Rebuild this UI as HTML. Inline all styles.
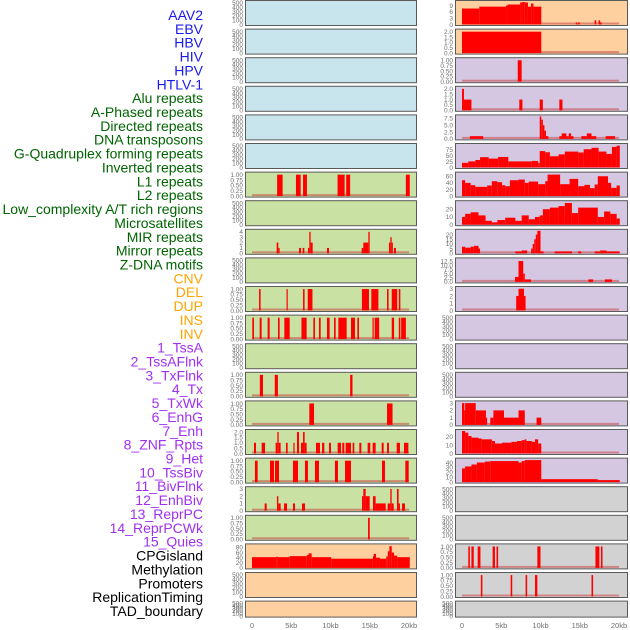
<!DOCTYPE html>
<html><head><meta charset="utf-8"><style>
html,body{margin:0;padding:0;background:#fff;}
svg{display:block;font-family:"Liberation Sans",sans-serif;}
</style></head><body>
<svg id="chart" width="630" height="630" viewBox="0 0 630 630"></svg>
<script>
const featureLabels = ["AAV2","EBV","HBV","HIV","HPV","HTLV-1","Alu repeats","A-Phased repeats","Directed repeats","DNA transposons","G-Quadruplex forming repeats","Inverted repeats","L1 repeats","L2 repeats","Low_complexity A/T rich regions","Microsatellites","MIR repeats","Mirror repeats","Z-DNA motifs","CNV","DEL","DUP","INS","INV","1_TssA","2_TssAFlnk","3_TxFlnk","4_Tx","5_TxWk","6_EnhG","7_Enh","8_ZNF_Rpts","9_Het","10_TssBiv","11_BivFlnk","12_EnhBiv","13_ReprPC","14_ReprPCWk","15_Quies","CPGisland","Methylation","Promoters","ReplicationTiming","TAD_boundary"];
const labelColors = ["#1a1aee","#1a1aee","#1a1aee","#1a1aee","#1a1aee","#1a1aee","#006400","#006400","#006400","#006400","#006400","#006400","#006400","#006400","#006400","#006400","#006400","#006400","#006400","#ffa500","#ffa500","#ffa500","#ffa500","#ffa500","#a030f0","#a030f0","#a030f0","#a030f0","#a030f0","#a030f0","#a030f0","#a030f0","#a030f0","#a030f0","#a030f0","#a030f0","#a030f0","#a030f0","#a030f0","#000","#000","#000","#000","#000"];
const xTickValues = [0,5,10,15,20];
const xTickLabels = ["0","5kb","10kb","15kb","20kb"];
const B="#c8e4ec",G="#c9e1a3",P="#ffd09f",L="#d5c6e2",Y="#d2d2d2";
const leftBg = [B,B,B,B,B,B,G,G,G,G,G,G,G,G,G,G,G,G,G,P,P,P];
const rightBg = [P,P,L,L,L,L,L,L,L,L,L,L,L,L,L,L,L,Y,Y,Y,Y,Y];
const T500=["0","100","200","300","400","500"], T1=["0.00","0.25","0.50","0.75","1.00"], T2=["0.0","0.5","1.0","1.5","2.0"];
const leftTicks = [T500,T500,T500,T500,T500,T500,T1,T500,["0","1","2","3","4"],T500,T1,T1,T500,T1,T1,T2,T1,["0","1","2","3"],T1,["0","20","40","60","80"],T500,T500];
const leftMax = [520,520,520,520,520,520,1.05,520,4.2,520,1.05,1.05,520,1.05,1.05,2.1,1.05,3.1,1.05,88,520,520];
const rightTicks = [["0","3","6","9"],T2,T1,T2,["0.0","2.5","5.0","7.5"],["0","25","50","75"],["0","20","40","60"],["0","10","20"],["0","5","10","15","20"],["0.0","2.5","5.0","7.5","10.0","12.5"],["0","1","2","3"],T500,T500,T500,["0","1","2","3"],["0","10","20"],["0","10","20","30","40"],T500,T500,T1,T1,T500];
const rightMax = [10.7,2.1,1.05,2.1,8.2,96,68,29,24,13.5,3.1,520,520,520,3.1,27,46,520,520,1.05,1.05,520];
// segments: [startKb, endKb, value]
const left6=[[3.2,3.9,1],[5.6,6.2,1],[6.5,7.0,1],[10.9,11.8,1],[12.0,12.5,1],[19.6,20.1,1]];
const left8=[[3.14,3.35,2],[3.35,3.52,1],[5.99,6.24,1],[6.45,6.67,1],[7.13,7.3,1],[7.3,7.47,4],[7.47,7.73,2],[9.55,9.81,1],[13.97,14.18,1],[14.18,14.82,2],[14.82,14.99,4],[17.45,17.62,2],[17.62,17.79,3],[17.79,17.87,2],[18.09,18.34,1]];
const left10=[[0.9,1.1,1],[4.4,4.5,1],[6.5,6.7,1],[7.1,7.7,1],[14.0,14.9,1],[15.2,16.1,1],[17.2,17.4,1],[17.8,18.5,1],[18.7,18.9,1]];
const left11=[[0.04,0.25,1],[0.98,1.23,1],[1.99,2.25,1],[3.31,3.52,1],[4.12,4.8,1],[6.3,6.96,1],[7.81,8.02,1],[8.53,8.75,1],[9.55,9.89,1],[10.45,10.66,1],[11.0,12.06,1],[12.61,13.12,1],[13.42,13.63,1],[15.35,15.5,1],[15.63,16.2,1],[17.8,18.1,1],[18.7,18.9,1],[19.0,19.6,1]];
const left13=[[1.0,1.4,1],[2.9,3.3,1],[12.5,12.8,1]];
const left14=[[7.3,7.9,1],[17.2,17.9,1]];
const left15=[[0.25,0.51,1],[1.23,1.66,1],[3.01,3.23,1],[3.23,3.4,2],[3.4,3.65,1],[4.33,4.54,1],[5.27,5.39,1],[5.73,5.99,2],[6.24,6.5,1],[6.5,6.71,2],[6.71,6.96,1],[8.15,8.66,1],[8.92,9.21,1],[9.81,10.06,1],[10.91,11.34,1],[11.5,11.76,1],[11.93,12.61,1],[12.82,13.03,1],[13.67,13.93,1],[14.73,15.07,1],[15.37,15.75,1],[16.52,16.77,1],[17.2,17.45,1],[18.43,18.85,1],[19.36,19.92,1]];
const left16=[[0.38,0.72,1],[2.29,2.8,1],[2.93,3.44,1],[5.22,5.86,1],[6.75,7.13,1],[8.02,8.53,1],[10.57,10.95,1],[11.85,12.61,1],[16.56,16.94,1],[19.53,19.96,1]];
const left17=[[1.61,1.87,1],[3.18,3.35,2],[3.35,3.65,1],[4.08,4.46,1],[5.22,5.48,1],[6.37,6.75,1],[14.01,14.18,2],[14.18,14.48,3],[14.48,14.99,2],[15.41,15.75,2],[15.75,17.03,1],[17.28,17.62,1],[17.62,17.79,3],[17.79,18.05,1],[18.47,18.68,3],[18.68,18.85,1],[19.11,19.49,1]];
const left18=[[14.78,15.0,1]];
const left19=[[0,3.1,42],[3.1,3.3,44],[3.3,4.8,42],[4.8,6.97,46],[6.97,7.2,50],[7.2,7.6,57],[7.6,10.1,42],[10.1,15.4,36],[15.4,15.5,45],[15.5,15.8,55],[15.8,16.3,40],[16.3,17.1,36],[17.1,17.3,45],[17.3,17.5,65],[17.5,17.8,85],[17.8,18.1,60],[18.1,18.5,48],[18.5,20.1,42]];
const right0=[[0,2.2,7.6],[2.2,5.6,8.5],[5.6,5.8,9],[5.8,7.4,9.5],[7.4,7.7,10.5],[7.7,8.0,11.5],[8.0,8.4,10.5],[8.4,8.8,8.5],[8.8,9.1,10],[9.1,10.1,8.5],[14.5,14.7,1],[14.8,15.0,1],[16.9,17.1,2],[17.4,17.6,2],[17.6,17.8,1]];
const right1=[[0,10.1,2]];
const right2=[[7.1,7.6,1]];
const right3=[[0,0.25,2],[0.25,1.2,1],[7.3,7.7,1],[9.9,10.3,1],[12.4,12.8,1]];
const right4=[[1.0,2.7,1],[9.9,10.1,9],[10.1,10.3,7],[10.3,10.5,5],[10.5,10.7,3],[10.7,11,1],[12.4,12.7,1],[12.7,13.3,2],[13.3,13.6,1],[13.6,13.9,2],[13.9,14.2,1],[15.2,15.9,1],[15.9,16.5,2],[16.5,17.1,1],[18.3,19.5,1]];
const right5=[[0,0.8,20],[0.8,1.7,26],[1.7,2.3,32],[2.3,3.4,44],[3.4,4.6,38],[4.6,5.9,45],[5.9,8.9,26],[8.9,9.7,28],[9.7,9.9,20],[9.9,10.6,70],[10.6,11.2,65],[11.2,12.3,48],[12.3,13.1,56],[13.1,14.8,68],[14.8,15.5,64],[15.5,16.5,78],[16.5,17.4,84],[17.4,18.4,68],[18.4,19.1,58],[19.1,19.7,88],[19.7,20.1,93]];
const right6=[[0,0.4,48],[0.4,1.1,40],[1.1,1.7,33],[1.7,3.2,28],[3.2,3.8,32],[3.8,4.5,45],[4.5,5.1,42],[5.1,5.5,33],[5.5,6.1,30],[6.1,7.2,48],[7.2,8.0,50],[8.0,8.5,40],[8.5,9.7,44],[9.7,10.6,36],[10.6,10.9,45],[10.9,12.5,65],[12.5,13.7,36],[13.7,14.8,52],[14.8,15.6,30],[15.6,16.3,34],[16.3,16.9,24],[16.9,17.3,35],[17.3,18.6,60],[18.6,19.0,40],[19.0,19.7,25],[19.7,20.1,32]];
const right7=[[0,0.4,10],[0.4,1.1,14],[1.1,2.1,16],[2.1,3.0,12],[3.0,3.8,5],[3.8,4.5,3],[4.5,5.5,6],[5.5,6.8,9],[6.8,7.6,5],[7.6,8.5,12],[8.5,9.3,7],[9.3,9.9,10],[9.9,10.3,12],[10.3,11.2,20],[11.2,12.3,22],[12.3,13.1,24],[13.1,14.0,28],[14.0,14.8,15],[14.8,17.3,22],[17.3,18.1,10],[18.1,18.9,17],[18.9,19.7,14],[19.7,20.1,8]];
const right8=[[0,0.4,7],[0.4,1.1,6],[1.1,1.5,7],[1.5,2.1,8],[2.1,2.3,5],[6.8,7.6,2],[7.6,8.3,3],[8.8,9.0,5],[9.0,9.2,10],[9.2,9.4,15],[9.4,9.6,20],[9.6,10.0,25],[10.0,10.4,2],[11.8,14.0,2],[14.8,15.2,2],[16.9,17.6,2],[17.6,18.4,3],[18.4,20.1,2]];
const right9=[[6.75,7.2,3],[7.2,7.8,12.5],[7.8,8.0,5],[8.0,8.8,1.5],[16.1,16.7,1.5],[18.2,19.1,1.5]];
const right10=[[6.9,7.2,2],[7.2,7.9,3],[7.9,8.1,2]];
const right14=[[0,0.3,3],[0.3,0.4,2],[0.4,1.75,3],[1.75,3.05,2],[3.05,3.2,1],[3.6,4.0,1],[4.0,5.35,2],[5.35,7.2,1],[7.2,8.0,2],[9.5,10.1,1]];
const right15=[[0,0.4,27],[0.4,0.8,25],[0.8,1.2,21],[1.2,2.1,19],[2.1,2.5,18],[2.5,3.8,17],[3.8,4.2,15],[4.2,5.1,12],[5.1,6.3,13],[6.3,7.0,14],[7.0,7.6,15],[7.6,8.0,16],[8.0,8.2,17],[8.2,8.9,15],[8.9,9.3,14],[9.3,9.7,17],[9.7,10.1,12]];
const right16=[[0,0.4,28],[0.4,1.2,32],[1.2,1.9,36],[1.9,2.9,40],[2.9,3.6,42],[3.6,7.2,43],[7.2,7.6,40],[7.6,8.0,43],[8.0,10.1,45],[10.1,17.3,6],[17.3,20.1,4]];
const right19=[[0.8,1.0,1],[1.2,1.5,1],[2.0,2.35,1],[3.9,4.2,1],[4.4,4.6,1],[9.6,10.0,1],[17.0,17.5,1],[17.7,17.9,1]];
const right20=[[2.4,2.6,1],[6.2,6.4,1],[8.1,8.3,1],[9.3,9.6,1],[16.5,16.7,1]];
const leftData={6:left6,8:left8,10:left10,11:left11,13:left13,14:left14,15:left15,16:left16,17:left17,18:left18,19:left19};
const rightData={0:right0,1:right1,2:right2,3:right3,4:right4,5:right5,6:right6,7:right7,8:right8,9:right9,10:right10,14:right14,15:right15,16:right16,19:right19,20:right20};

const NS="http://www.w3.org/2000/svg";
const svg=document.getElementById('chart');
function mk(tag,attrs,parent){const e=document.createElementNS(NS,tag);for(const k in attrs)e.setAttribute(k,attrs[k]);(parent||svg).appendChild(e);return e;}
const rowTop=i=>i*28.6;
const rowH=i=>i===21?16:25;
const cols=[{px:245,pw:171,x0:252,bg:leftBg,ticks:leftTicks,max:leftMax,data:leftData,side:'left'},
            {px:455,pw:172,x0:462,bg:rightBg,ticks:rightTicks,max:rightMax,data:rightData,side:'right'}];
const kbScale=7.85;
cols.forEach(c=>{
  const xs=kb=>c.x0+kb*kbScale;
  for(let i=0;i<22;i++){
    const top=rowTop(i),h=rowH(i);
    const g=mk('g',{});
    
    
    const bg=mk('rect',{x:c.px+0.5,y:top+0.5,width:c.pw,height:h,fill:c.bg[i],stroke:'#5a5a5a','stroke-width':1},g);
    
    
    const yb=top+h-0.5, yt=top+2;
    const ys=v=>yb-(v/c.max[i])*(yb-yt);
    c.ticks[i].forEach(t=>{
      const tx=mk('text',{x:c.px-2,y:ys(parseFloat(t))+2.3,'font-size':6.5,fill:'#707070','text-anchor':'end'},g);
      tx.textContent=t;
      
      
    });
    const segs=c.data[i];
    if(segs){
      const base=mk('rect',{x:xs(0),y:yb-2,width:xs(20)-xs(0),height:2,fill:'rgba(200,70,70,0.55)'},g);
      
      
      segs.forEach(s=>{
        const v=Math.min(s[2],c.max[i]);
        const r=mk('rect',{x:xs(s[0]),y:ys(v),width:Math.max(xs(s[1])-xs(s[0]),1.2),height:yb-ys(v),fill:'#ff0000'},g);
        
        
      });
    }
  }
  xTickValues.forEach((v,k)=>{
    const t=mk('text',{x:xs(v),y:628,'font-size':7.5,fill:'#707070','text-anchor':'middle'});
    t.textContent=xTickLabels[k];
    
    
  });
});
featureLabels.forEach((lab,k)=>{
  const t=mk('text',{x:203,y:20+k*13.86,'font-size':14,fill:labelColors[k],'text-anchor':'end'});
  t.textContent=lab;
  
  
});
</script>
</body></html>
